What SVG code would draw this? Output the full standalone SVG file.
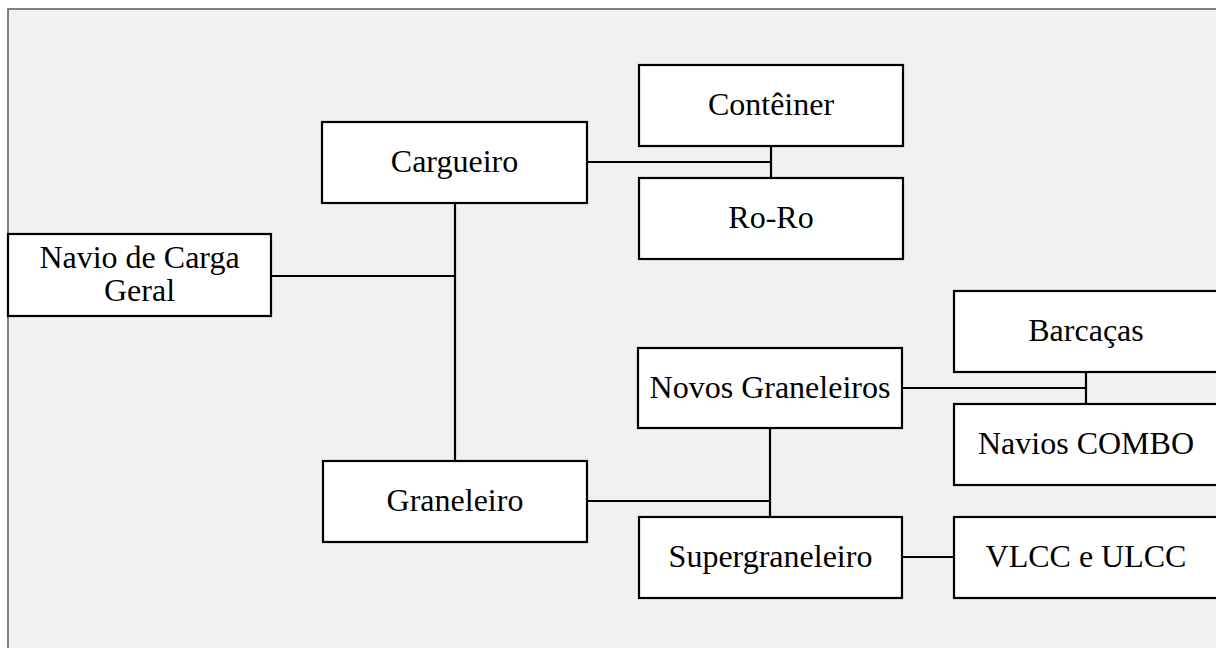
<svg xmlns="http://www.w3.org/2000/svg" width="1216" height="648" viewBox="0 0 1216 648">
<style>
.node rect{fill:#ffffff;stroke:#000000;stroke-width:2.2}
.node text{font-family:"Liberation Serif","Times New Roman",serif;font-size:32px;fill:#000000;text-anchor:middle}
.conn{stroke:#000000;stroke-width:2.2;fill:none}
</style>
<rect x="8" y="9" width="1220" height="650" fill="#f1f1f1" stroke="#5a5a5a" stroke-width="1.5"/>
<g id="connectors">
<path class="conn" d="M271,276 H455"/>
<path class="conn" d="M455,203 V461"/>
<path class="conn" d="M587,162 H771"/>
<path class="conn" d="M771,146 V178"/>
<path class="conn" d="M902,388 H1086"/>
<path class="conn" d="M1086,372 V404"/>
<path class="conn" d="M587,501 H770"/>
<path class="conn" d="M770,428 V517"/>
<path class="conn" d="M902,557 H954"/>
</g>
<g id="navio" class="node"><rect x="8" y="234" width="263" height="82"/><text x="139.5" y="268">Navio de Carga</text><text x="139.5" y="301">Geral</text></g>
<g id="cargueiro" class="node"><rect x="322" y="122" width="265" height="81"/><text x="454.5" y="172">Cargueiro</text></g>
<g id="conteiner" class="node"><rect x="639" y="65" width="264" height="81"/><text x="771" y="115">Contêiner</text></g>
<g id="roro" class="node"><rect x="639" y="178" width="264" height="81"/><text x="771" y="228">Ro-Ro</text></g>
<g id="barcacas" class="node"><rect x="954" y="291" width="270" height="81"/><text x="1086" y="341">Barcaças</text></g>
<g id="novos" class="node"><rect x="638" y="348" width="264" height="80"/><text x="770" y="398">Novos Graneleiros</text></g>
<g id="combo" class="node"><rect x="954" y="404" width="270" height="81"/><text x="1086" y="454">Navios COMBO</text></g>
<g id="graneleiro" class="node"><rect x="323" y="461" width="264" height="81"/><text x="455" y="511">Graneleiro</text></g>
<g id="super" class="node"><rect x="639" y="517" width="263" height="81"/><text x="770.5" y="567">Supergraneleiro</text></g>
<g id="vlcc" class="node"><rect x="954" y="517" width="270" height="81"/><text x="1086" y="567">VLCC e ULCC</text></g>
</svg>
